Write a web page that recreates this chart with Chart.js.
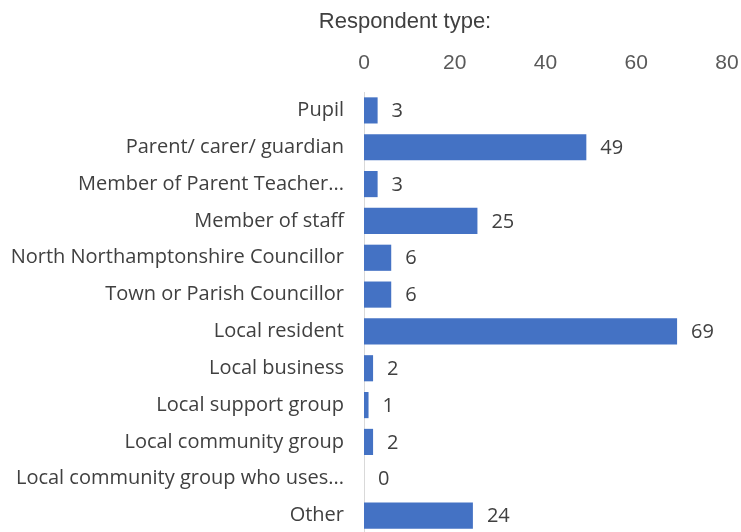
<!DOCTYPE html>
<html>
<head>
<meta charset="utf-8">
<script src="https://cdn.jsdelivr.net/npm/chart.js@4"></script>
<style>
  html, body { margin: 0; padding: 0; background: #fff; overflow: hidden; }
  canvas { display: block; }
</style>
</head>
<body>
<canvas id="chart" width="741" height="534"></canvas>
<script>
const categories = [
    "Pupil",
    "Parent/ carer/ guardian",
    "Member of Parent Teacher...",
    "Member of staff",
    "North Northamptonshire Councillor",
    "Town or Parish Councillor",
    "Local resident",
    "Local business",
    "Local support group",
    "Local community group",
    "Local community group who uses...",
    "Other"
];
const respondents = [3, 49, 3, 25, 6, 6, 69, 2, 1, 2, 0, 24];
const xTicks = [0, 20, 40, 60, 80];
const chartTitle = "Respondent type:";

const labelFont = "'Open Sans', 'Noto Sans', sans-serif";
const axisFont = "'Liberation Sans Narrow', 'Liberation Sans', Arial, sans-serif";

// value labels after each bar
const valueLabels = {
    id: "valueLabels",
    afterDatasetsDraw(chart) {
        const { ctx } = chart;
        const meta = chart.getDatasetMeta(0);
        ctx.save();
        ctx.font = "20px " + labelFont;
        ctx.fillStyle = "#404040";
        ctx.textAlign = "left";
        ctx.textBaseline = "middle";
        meta.data.forEach((bar, i) => {
            ctx.fillText(String(respondents[i]), bar.x + 14, bar.y + 1);
        });
        ctx.restore();
    }
};

// title sits off-centre in the original, so draw it by hand
const titleText = {
    id: "titleText",
    afterDraw(chart) {
        const { ctx } = chart;
        ctx.save();
        ctx.font = "22px " + axisFont;
        ctx.fillStyle = "#404040";
        ctx.textAlign = "center";
        ctx.textBaseline = "middle";
        ctx.fillText(chartTitle, 405, 22);
        ctx.restore();
    }
};

new Chart(document.getElementById("chart"), {
    type: "bar",
    data: {
        labels: categories,
        datasets: [{
            data: respondents,
            backgroundColor: "#4472C4",
            borderWidth: 0,
            categoryPercentage: 1,
            barPercentage: 0.71
        }]
    },
    options: {
        indexAxis: "y",
        responsive: false,
        animation: false,
        layout: { padding: { top: 0, right: 14, left: 0, bottom: 0 } },
        plugins: { legend: { display: false }, tooltip: { enabled: false }, title: { display: false } },
        scales: {
            x: {
                position: "top",
                min: 0,
                max: 80,
                afterBuildTicks(axis) { axis.ticks = xTicks.map(v => ({ value: v })); },
                afterFit(axis) {
                    axis.height = 92;
                    axis.paddingLeft = 0;
                    axis.paddingRight = 0;
                },
                grid: { display: false, drawTicks: false },
                border: { display: false },
                ticks: { color: "#595959", font: { size: 21, family: axisFont }, padding: 16 }
            },
            y: {
                afterFit(axis) {
                    axis.width = 364;
                    axis.paddingTop = 0;
                    axis.paddingBottom = 0;
                },
                grid: { display: false, drawTicks: false },
                border: { display: true, color: "#d9d9d9", width: 1 },
                ticks: { color: "#404040", font: { size: 20, family: labelFont }, padding: 20, autoSkip: false }
            }
        }
    },
    plugins: [valueLabels, titleText]
});
</script>
</body>
</html>
